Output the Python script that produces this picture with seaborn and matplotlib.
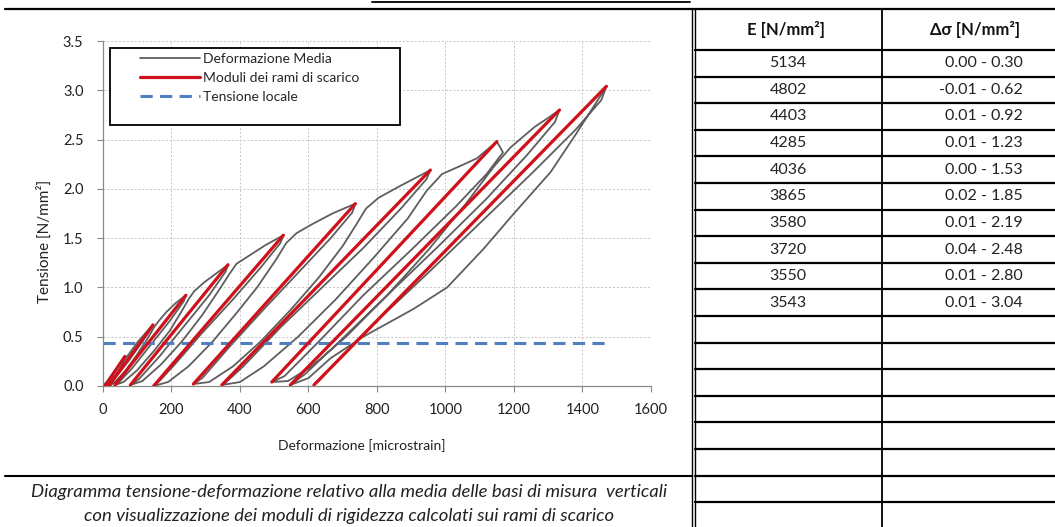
import numpy as np
import pandas as pd
import matplotlib
matplotlib.use("Agg")
import matplotlib.pyplot as plt
import seaborn as sns
from matplotlib.lines import Line2D
from matplotlib.patches import Rectangle
from matplotlib.ticker import FormatStrFormatter, MultipleLocator

# --- table values: unloading moduli and stress range ---
E_mod = [5134, 4802, 4403, 4285, 4036, 3865, 3580, 3720, 3550, 3543]
sig_lo = [0.00, -0.01, 0.01, 0.01, 0.00, 0.02, 0.01, 0.04, 0.01, 0.01]
sig_hi = [0.30, 0.62, 0.92, 1.23, 1.53, 1.85, 2.19, 2.48, 2.80, 3.04]

# strain at the two ends of each unloading line
eps_lo = [6, 15, 35, 80, 148, 264, 347, 493, 547, 616]
eps_hi = [64, 146, 242, 365, 527, 737, 956, 1150, 1333, 1470]

# local stress level
sig_local = 0.44
eps_local = [0, 1475]

# average deformation path (load / unload branches)
gray_eps = [
    0, 15, 35, 50, 64, 55, 35, 15, 6,
    25, 45, 62, 75, 100, 125, 146, 140, 115, 74, 30, 15,
    35, 65, 100, 130, 150, 163, 185, 212, 242, 236, 195, 140, 85, 50, 35,
    60, 100, 150, 195, 230, 250, 266, 295, 330, 365, 358, 310, 240, 165, 105, 80,
    115, 170, 230, 290, 340, 370, 390, 430, 475, 527, 518, 460, 380, 290, 210, 165, 148,
    190, 250, 320, 390, 450, 505, 535, 565, 610, 670, 737, 728, 665, 570, 470, 370, 290, 264,
    310, 380, 460, 550, 630, 700, 740, 768, 805, 868, 956, 945, 870, 760, 640, 520, 410, 360, 347,
    400, 470, 570, 680, 790, 890, 945, 990, 1042, 1092, 1150, 1168, 1120, 1030, 900, 760, 630, 530, 493,
    540, 610, 710, 830, 950, 1060, 1140, 1190, 1261, 1300, 1333, 1320, 1240, 1120, 980, 830, 690, 590, 547,
    600, 664, 760, 906, 1005, 1111, 1200, 1307, 1380, 1430, 1470, 1455, 1380, 1250, 1100, 950, 800, 680, 630, 616,
]
gray_sig = [
    0, 0.06, 0.16, 0.23, 0.30, 0.20, 0.10, 0.03, 0.00,
    0.05, 0.15, 0.26, 0.32, 0.44, 0.54, 0.62, 0.58, 0.45, 0.25, 0.06, -0.01,
    0.04, 0.15, 0.32, 0.48, 0.60, 0.66, 0.75, 0.84, 0.92, 0.86, 0.66, 0.42, 0.18, 0.05, 0.01,
    0.04, 0.16, 0.36, 0.56, 0.76, 0.88, 0.96, 1.05, 1.14, 1.23, 1.16, 0.92, 0.62, 0.30, 0.07, 0.01,
    0.05, 0.22, 0.45, 0.72, 0.98, 1.14, 1.24, 1.33, 1.43, 1.53, 1.45, 1.20, 0.88, 0.54, 0.22, 0.05, 0.00,
    0.04, 0.20, 0.45, 0.74, 1.00, 1.28, 1.45, 1.55, 1.64, 1.75, 1.85, 1.76, 1.50, 1.15, 0.78, 0.40, 0.08, 0.02,
    0.04, 0.20, 0.45, 0.78, 1.10, 1.42, 1.64, 1.80, 1.91, 2.03, 2.19, 2.10, 1.80, 1.40, 1.00, 0.60, 0.20, 0.04, 0.01,
    0.04, 0.20, 0.50, 0.88, 1.30, 1.70, 1.98, 2.15, 2.23, 2.31, 2.48, 2.37, 2.15, 1.82, 1.38, 0.92, 0.45, 0.10, 0.04,
    0.05, 0.20, 0.50, 0.92, 1.38, 1.85, 2.22, 2.42, 2.63, 2.72, 2.80, 2.68, 2.35, 1.90, 1.42, 0.92, 0.45, 0.12, 0.01,
    0.08, 0.28, 0.50, 0.78, 1.00, 1.39, 1.75, 2.17, 2.55, 2.82, 3.04, 2.90, 2.60, 2.15, 1.65, 1.15, 0.66, 0.24, 0.05, 0.01,
]

gray_c = "#5e5e5e"
red_c = "#d0101a"
blue_c = "#4f7fbf"

sns.set_theme(style="white")
plt.rcParams["font.family"] = ["Lato", "DejaVu Sans"]

fig = plt.figure(figsize=(10.55, 5.27), dpi=100)

# --- overlay in pixel coordinates for table / frame lines ---
ov = fig.add_axes([0, 0, 1, 1])
ov.set_xlim(0, 1055)
ov.set_ylim(527, 0)
ov.axis("off")

ov.plot([372, 690], [1.5, 1.5], color="black", lw=1.3)
ov.plot([5, 1055], [9, 9], color="black", lw=1.6)
ov.plot([5, 692], [476, 476], color="black", lw=1.5)
ov.plot([691.5, 691.5], [9, 527], color="black", lw=1.0)
ov.plot([695, 695], [9, 527], color="black", lw=1.0)
ov.plot([882, 882], [9, 527], color="black", lw=1.3)

row_edges = 50 + 26.6 * np.arange(19)
for yy in row_edges:
    ov.plot([695, 1055], [yy, yy], color="black", lw=1.6)

ov.text(786, 30, "E [N/mm²]", ha="center", va="center", fontsize=12, fontweight="bold", color="#111")
ov.text(975, 30, "Δσ [N/mm²]", ha="center", va="center", fontsize=12, fontweight="bold", color="#111")
for i, (e, lo, hi) in enumerate(zip(E_mod, sig_lo, sig_hi)):
    yc = row_edges[i] + 13.3
    ov.text(788, yc, f"{e}", ha="center", va="center", fontsize=11.5, color="#222")
    ov.text(1023, yc, f"{lo:.2f} - {hi:.2f}", ha="right", va="center", fontsize=11.5, color="#222")

ov.text(349, 492, "Diagramma tensione-deformazione relativo alla media delle basi di misura  verticali",
        ha="center", va="center", fontsize=13.3, style="italic", color="#222")
ov.text(349, 516, "con visualizzazione dei moduli di rigidezza calcolati sui rami di scarico",
        ha="center", va="center", fontsize=13.3, style="italic", color="#222")

# --- chart ---
ax = fig.add_axes([0.0976, 0.2676, 0.5194, 0.6546])

gray_df = pd.DataFrame({"eps": gray_eps, "sig": gray_sig})
sns.lineplot(data=gray_df, x="eps", y="sig", sort=False, estimator=None,
             color=gray_c, lw=1.3, ax=ax, zorder=2)

red_df = pd.DataFrame({
    "cycle": np.repeat(np.arange(len(E_mod)), 2),
    "eps": np.ravel(np.column_stack([eps_lo, eps_hi])),
    "sig": np.ravel(np.column_stack([sig_lo, sig_hi])),
})
sns.lineplot(data=red_df, x="eps", y="sig", units="cycle", estimator=None, sort=False,
             color=red_c, lw=2.3, ax=ax, zorder=3)

ax.plot(eps_local, [sig_local, sig_local], color=blue_c, lw=2.2, dashes=(4, 2.4), zorder=2.5)

ax.set_xlim(0, 1600)
ax.set_ylim(0, 3.5)
ax.xaxis.set_major_locator(MultipleLocator(200))
ax.yaxis.set_major_locator(MultipleLocator(0.5))
ax.yaxis.set_major_formatter(FormatStrFormatter("%.1f"))
ax.grid(True, color="#c4c4c4", linestyle=(0, (2, 2)), lw=0.7)
ax.set_axisbelow(True)

for s in ["top", "right"]:
    ax.spines[s].set_visible(False)
for s in ["left", "bottom"]:
    ax.spines[s].set_color("#8a8a8a")
    ax.spines[s].set_linewidth(0.9)

ax.tick_params(axis="x", direction="out", length=4, width=0.8, color="#8a8a8a",
               pad=8, labelsize=10.5, labelcolor="#222", bottom=True)
ax.tick_params(axis="y", direction="out", length=4, width=0.8, color="#8a8a8a",
               pad=10, labelsize=10.5, labelcolor="#222", left=True)

ax.set_xlabel("Deformazione [microstrain]", fontsize=10, color="#222")
ax.set_ylabel("Tensione [N/mm²]", fontsize=11, color="#222")
ax.xaxis.set_label_coords(0.4726, -0.154)
ax.yaxis.set_label_coords(-0.093, 0.42)

# legend with a square white frame
ax.add_patch(Rectangle((0.0128, 0.7565), 0.529, 0.223, transform=ax.transAxes,
                       facecolor="white", edgecolor="black", lw=1.3, zorder=4))
handles = [
    Line2D([], [], color=gray_c, lw=1.3),
    Line2D([], [], color=red_c, lw=2.3),
    Line2D([], [], color=blue_c, lw=2.2, dashes=(4, 2.4)),
]
labels = ["Deformazione Media", "Moduli dei rami di scarico", "Tensione locale"]
leg = ax.legend(handles, labels, loc="upper left", bbox_to_anchor=(0.0675, 0.965),
                frameon=False, borderpad=0, borderaxespad=0, handlelength=4.3,
                handletextpad=0.25, labelspacing=0.5, fontsize=10)
leg.set_zorder(5)

fig.savefig("out.png", dpi=100)
